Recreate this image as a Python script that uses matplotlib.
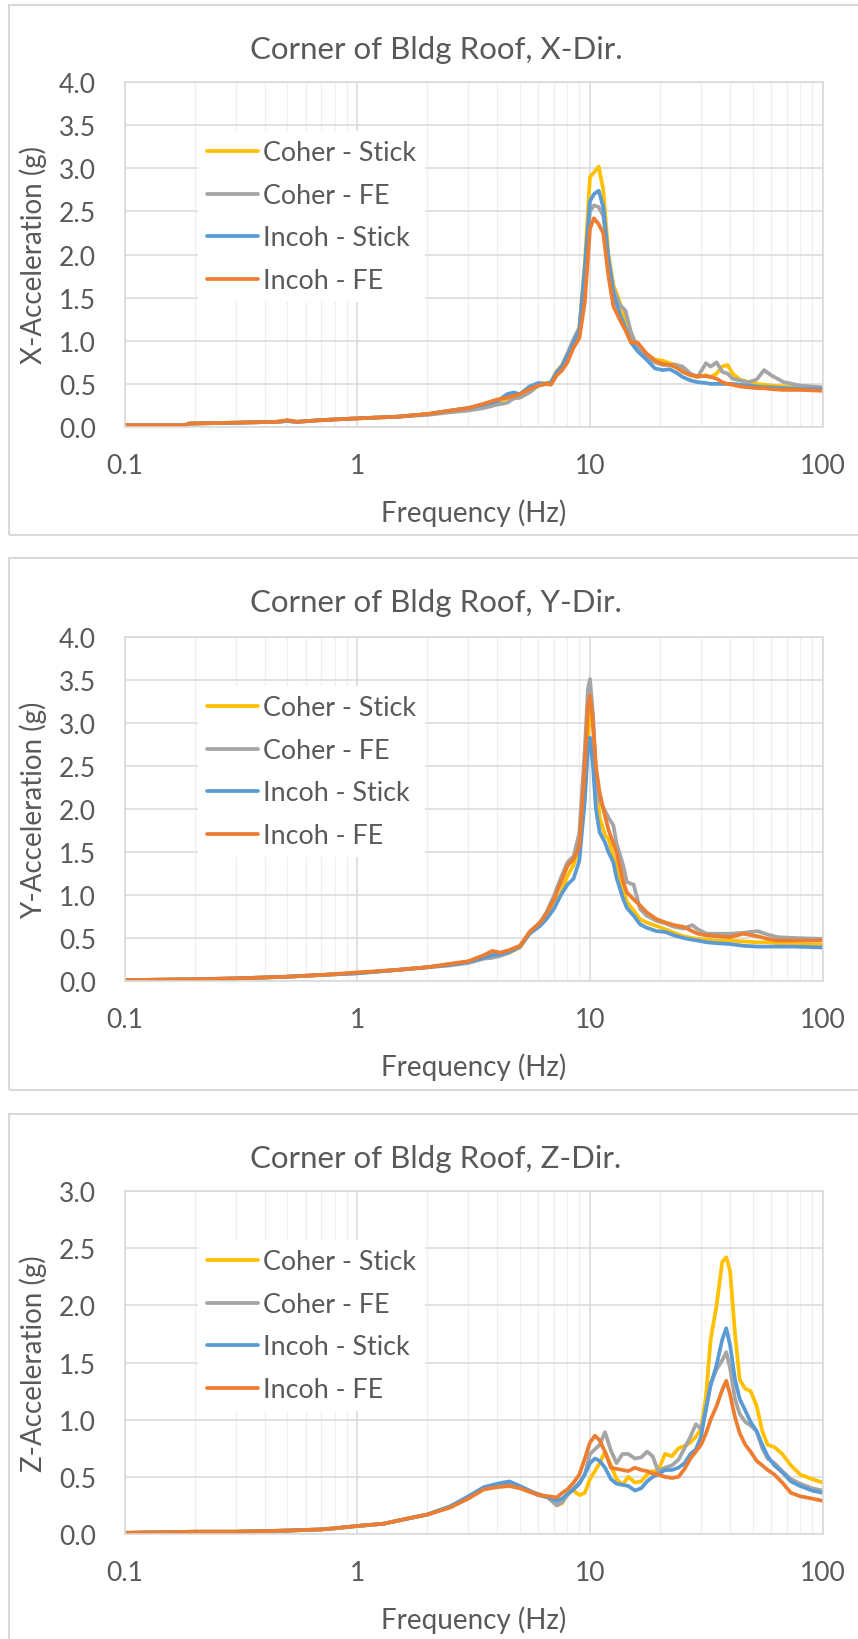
import numpy as np
import matplotlib
matplotlib.use('Agg')
import matplotlib.pyplot as plt
from matplotlib.patches import Rectangle
from matplotlib.ticker import FixedLocator, NullFormatter

plt.rcParams['font.family'] = ['Lato', 'DejaVu Sans']

# series names and colours (Excel default palette)
series_names = ['Coher - Stick', 'Coher - FE', 'Incoh - Stick', 'Incoh - FE']
series_colors = ['#FFC000', '#A5A5A5', '#5B9BD5', '#ED7D31']

# ---------------- X direction ----------------
freq_x = [0.1, 0.18, 0.19, 0.3, 0.45, 0.5, 0.55, 0.7, 1.0, 1.5, 2.0, 2.5, 3.0, 3.5,
          4.0, 4.4, 4.7, 5.0, 5.5, 6.0, 6.5, 6.8, 7.2, 7.6, 8.0, 8.5, 9.0, 9.5, 10.0,
          10.4, 10.9, 11.4, 12.0, 12.6, 13.4, 14.2, 15.0, 16.0, 17.5, 19.0, 20.5, 22.0,
          23.5, 25.0, 27.0, 29.0, 31.5, 33.0, 35.0, 37.0, 39.0, 41.0, 44.0, 48.0, 52.0,
          56.0, 60.0, 68.0, 80.0, 100.0]
coher_stick_x = [0.02, 0.02, 0.04, 0.05, 0.06, 0.07, 0.06, 0.08, 0.10, 0.12, 0.15, 0.18, 0.21, 0.25,
                 0.29, 0.33, 0.36, 0.36, 0.44, 0.50, 0.51, 0.52, 0.65, 0.72, 0.85, 1.00, 1.15, 1.90, 2.90,
                 2.95, 3.02, 2.75, 2.00, 1.65, 1.45, 1.25, 1.05, 0.95, 0.85, 0.78, 0.77, 0.74,
                 0.72, 0.67, 0.60, 0.58, 0.60, 0.58, 0.62, 0.70, 0.72, 0.62, 0.55, 0.52, 0.50,
                 0.49, 0.48, 0.47, 0.45, 0.44]
coher_fe_x = [0.02, 0.02, 0.04, 0.05, 0.06, 0.07, 0.06, 0.08, 0.10, 0.12, 0.14, 0.17, 0.19, 0.22,
              0.26, 0.28, 0.33, 0.34, 0.40, 0.48, 0.50, 0.51, 0.63, 0.72, 0.85, 1.02, 1.15, 1.80, 2.50,
              2.57, 2.55, 2.45, 1.95, 1.60, 1.42, 1.35, 1.10, 0.92, 0.82, 0.75, 0.72, 0.72,
              0.72, 0.70, 0.62, 0.58, 0.74, 0.70, 0.75, 0.64, 0.62, 0.56, 0.54, 0.52, 0.55,
              0.66, 0.60, 0.52, 0.48, 0.46]
incoh_stick_x = [0.02, 0.02, 0.04, 0.05, 0.06, 0.07, 0.06, 0.08, 0.10, 0.12, 0.15, 0.19, 0.22, 0.26,
                 0.30, 0.38, 0.40, 0.38, 0.47, 0.51, 0.50, 0.52, 0.64, 0.70, 0.83, 0.98, 1.12, 1.85, 2.62,
                 2.70, 2.74, 2.55, 1.95, 1.55, 1.32, 1.15, 0.98, 0.88, 0.78, 0.68, 0.66, 0.67,
                 0.63, 0.58, 0.54, 0.52, 0.51, 0.50, 0.50, 0.50, 0.50, 0.50, 0.49, 0.48, 0.47,
                 0.46, 0.46, 0.45, 0.44, 0.44]
incoh_fe_x = [0.02, 0.02, 0.04, 0.05, 0.06, 0.08, 0.06, 0.08, 0.10, 0.12, 0.15, 0.19, 0.22, 0.27,
              0.32, 0.34, 0.36, 0.38, 0.44, 0.48, 0.50, 0.49, 0.60, 0.66, 0.75, 0.92, 1.03, 1.45, 2.30,
              2.42, 2.35, 2.25, 1.75, 1.40, 1.25, 1.12, 0.98, 0.98, 0.85, 0.77, 0.73, 0.72,
              0.69, 0.64, 0.60, 0.59, 0.59, 0.58, 0.56, 0.52, 0.50, 0.49, 0.47, 0.46, 0.45,
              0.45, 0.44, 0.43, 0.43, 0.42]

# ---------------- Y direction ----------------
freq_y = [0.1, 0.2, 0.3, 0.5, 0.7, 1.0, 1.5, 2.0, 2.5, 3.0, 3.5, 3.8, 4.1, 4.5, 5.0, 5.5,
          6.1, 6.5, 7.0, 7.5, 8.0, 8.5, 9.0, 9.5, 9.8, 10.0, 10.3, 10.6, 11.0, 11.6, 12.0,
          12.6, 13.0, 13.9, 14.4, 15.4, 16.4, 17.5, 19.3, 21.1, 23.0, 25.2, 27.5, 29.1,
          31.7, 35.0, 40.0, 45.5, 52.5, 58.0, 64.0, 75.0, 100.0]
coher_stick_y = [0.01, 0.02, 0.03, 0.05, 0.07, 0.09, 0.13, 0.16, 0.19, 0.22, 0.27, 0.30, 0.30, 0.33, 0.39, 0.55,
                 0.66, 0.75, 0.88, 1.02, 1.22, 1.35, 1.55, 2.20, 2.85, 3.12, 2.95, 2.40, 1.90, 1.70, 1.65,
                 1.45, 1.34, 1.05, 0.92, 0.82, 0.72, 0.68, 0.64, 0.60, 0.56, 0.52, 0.50, 0.49,
                 0.48, 0.47, 0.47, 0.46, 0.45, 0.45, 0.44, 0.43, 0.42]
coher_fe_y = [0.01, 0.02, 0.03, 0.05, 0.07, 0.09, 0.13, 0.16, 0.18, 0.21, 0.26, 0.27, 0.29, 0.33, 0.40, 0.57,
              0.68, 0.80, 0.99, 1.20, 1.38, 1.45, 1.72, 2.70, 3.40, 3.51, 3.10, 2.39, 2.10, 1.98, 1.90,
              1.81, 1.60, 1.34, 1.15, 1.12, 0.84, 0.76, 0.70, 0.67, 0.63, 0.61, 0.65, 0.60,
              0.55, 0.55, 0.55, 0.56, 0.58, 0.54, 0.51, 0.50, 0.49]
incoh_stick_y = [0.01, 0.02, 0.03, 0.05, 0.07, 0.09, 0.13, 0.16, 0.19, 0.22, 0.27, 0.30, 0.31, 0.34, 0.40, 0.55,
                 0.64, 0.72, 0.84, 1.00, 1.12, 1.19, 1.40, 2.10, 2.70, 2.83, 2.50, 2.00, 1.73, 1.61, 1.50,
                 1.38, 1.20, 0.95, 0.85, 0.76, 0.66, 0.62, 0.58, 0.57, 0.53, 0.50, 0.48, 0.47,
                 0.45, 0.44, 0.43, 0.41, 0.40, 0.40, 0.40, 0.40, 0.39]
incoh_fe_y = [0.01, 0.02, 0.03, 0.05, 0.07, 0.10, 0.13, 0.16, 0.20, 0.23, 0.30, 0.35, 0.33, 0.36, 0.41, 0.57,
              0.68, 0.78, 0.95, 1.15, 1.34, 1.42, 1.57, 2.50, 3.20, 3.32, 3.00, 2.50, 2.19, 1.92, 1.76,
              1.60, 1.50, 1.15, 1.03, 0.95, 0.88, 0.80, 0.72, 0.68, 0.65, 0.63, 0.58, 0.55,
              0.53, 0.52, 0.51, 0.55, 0.52, 0.49, 0.47, 0.47, 0.47]

# ---------------- Z direction ----------------
freq_z = [0.1, 0.2, 0.3, 0.5, 0.7, 0.8, 1.0, 1.3, 1.6, 2.0, 2.5, 3.0, 3.5, 4.0, 4.5, 5.0,
          5.5, 6.0, 6.6, 7.2, 7.6, 8.0, 8.5, 9.0, 9.5, 10.0, 10.5, 11.0, 11.6, 12.3, 13.0,
          13.8, 14.6, 15.6, 16.6, 17.6, 18.6, 19.6, 21.0, 22.5, 24.0, 25.5, 27.0, 28.5,
          30.0, 31.5, 33.0, 35.0, 37.0, 38.5, 40.0, 42.0, 44.0, 46.5, 49.0, 52.0, 55.0,
          58.0, 62.0, 67.0, 73.0, 80.0, 90.0, 100.0]
coher_stick_z = [0.01, 0.02, 0.02, 0.03, 0.04, 0.05, 0.07, 0.09, 0.13, 0.17, 0.24, 0.32, 0.40, 0.43, 0.44, 0.40,
                 0.37, 0.35, 0.32, 0.25, 0.27, 0.36, 0.38, 0.34, 0.36, 0.48, 0.55, 0.62, 0.72, 0.60, 0.48,
                 0.43, 0.50, 0.45, 0.46, 0.52, 0.55, 0.55, 0.70, 0.68, 0.75, 0.77, 0.80, 0.85,
                 0.92, 1.20, 1.70, 2.00, 2.38, 2.42, 2.30, 1.75, 1.35, 1.27, 1.25, 1.12, 0.90,
                 0.78, 0.76, 0.70, 0.60, 0.52, 0.48, 0.45]
coher_fe_z = [0.01, 0.02, 0.02, 0.03, 0.04, 0.05, 0.07, 0.09, 0.13, 0.17, 0.24, 0.32, 0.40, 0.43, 0.44, 0.41,
              0.37, 0.35, 0.32, 0.25, 0.28, 0.34, 0.40, 0.45, 0.52, 0.70, 0.74, 0.78, 0.89, 0.73, 0.62,
              0.70, 0.70, 0.66, 0.67, 0.72, 0.68, 0.55, 0.58, 0.60, 0.65, 0.75, 0.85, 0.96,
              0.92, 1.08, 1.32, 1.44, 1.52, 1.59, 1.45, 1.18, 1.05, 0.98, 0.95, 0.90, 0.75,
              0.66, 0.62, 0.55, 0.48, 0.44, 0.40, 0.38]
incoh_stick_z = [0.01, 0.02, 0.02, 0.03, 0.04, 0.05, 0.07, 0.09, 0.13, 0.17, 0.24, 0.33, 0.41, 0.44, 0.46, 0.42,
                 0.38, 0.34, 0.32, 0.29, 0.31, 0.35, 0.39, 0.44, 0.52, 0.62, 0.66, 0.64, 0.58, 0.48, 0.44,
                 0.43, 0.42, 0.38, 0.40, 0.46, 0.50, 0.52, 0.56, 0.56, 0.58, 0.62, 0.70, 0.74,
                 0.85, 1.10, 1.30, 1.48, 1.70, 1.80, 1.65, 1.35, 1.18, 1.08, 0.98, 0.90, 0.78,
                 0.68, 0.60, 0.54, 0.46, 0.42, 0.38, 0.36]
incoh_fe_z = [0.01, 0.02, 0.02, 0.03, 0.04, 0.05, 0.07, 0.09, 0.13, 0.17, 0.23, 0.31, 0.39, 0.41, 0.42, 0.40,
              0.37, 0.34, 0.33, 0.32, 0.36, 0.39, 0.45, 0.52, 0.66, 0.80, 0.86, 0.82, 0.72, 0.58, 0.57,
              0.56, 0.55, 0.58, 0.56, 0.55, 0.53, 0.52, 0.50, 0.49, 0.50, 0.57, 0.66, 0.72,
              0.78, 0.88, 1.00, 1.12, 1.26, 1.34, 1.22, 1.02, 0.88, 0.78, 0.72, 0.64, 0.60,
              0.56, 0.52, 0.45, 0.36, 0.33, 0.31, 0.29]

titles = ['Corner of Bldg Roof, X-Dir.', 'Corner of Bldg Roof, Y-Dir.', 'Corner of Bldg Roof, Z-Dir.']
ylabels = ['X-Acceleration (g)', 'Y-Acceleration (g)', 'Z-Acceleration (g)']
ymaxes = [4.0, 4.0, 3.0]
x_ticks = [0.1, 1, 10, 100]
x_ticklabels = ['0.1', '1', '10', '100']

panels = [
    (freq_x, [coher_stick_x, coher_fe_x, incoh_stick_x, incoh_fe_x]),
    (freq_y, [coher_stick_y, coher_fe_y, incoh_stick_y, incoh_fe_y]),
    (freq_z, [coher_stick_z, coher_fe_z, incoh_stick_z, incoh_fe_z]),
]

W, H = 858, 1640
TXT = '#595959'
fig = plt.figure(figsize=(W / 100, H / 100), dpi=100)
renderer = fig.canvas.get_renderer()


def fit_size(s, target, base=20, rotation=0):
    # font size (pt) that gives the text the wanted extent in pixels
    t = fig.text(0, 0, s, fontsize=base, rotation=rotation)
    bb = t.get_window_extent(renderer)
    t.remove()
    w = bb.height if rotation else bb.width
    return base * target / w


title_fs = fit_size(titles[0], 373)
leg_fs = fit_size('Coher - Stick', 154)
xlab_fs = fit_size('Frequency (Hz)', 185)
ylab_fs = fit_size(ylabels[0], 218, rotation=90)
tick_fs = fit_size('4.0', 37)
leg_px = leg_fs / 72 * 100

# pixel layout of each chart: (border top, border bottom, plot top, plot bottom)
layout = [(6, 536, 83, 428), (559, 1091, 638, 982), (1115, 1700, 1192, 1535)]
px_left, px_right = 124.6, 822.7
axes = []

for i, (freq, vals) in enumerate(panels):
    btop, bbot, ptop, pbot = layout[i]
    # chart border
    fig.patches.append(Rectangle((9 / W, 1 - bbot / H), (880 - 9) / W, (bbot - btop) / H,
                                 transform=fig.transFigure, fill=False,
                                 edgecolor='#D9D9D9', linewidth=1.5, zorder=0))
    ax = fig.add_axes([px_left / W, 1 - pbot / H, (px_right - px_left) / W, (pbot - ptop) / H])
    axes.append(ax)
    for v, name, c in zip(vals, series_names, series_colors):
        ax.plot(freq, v, color=c, lw=2.7, label=name,
                solid_joinstyle='round', solid_capstyle='round')
    ax.set_xscale('log')
    ax.set_xlim(0.1, 100)
    ax.set_ylim(0, ymaxes[i])
    yt = np.arange(0, ymaxes[i] + 0.01, 0.5)
    ax.set_yticks(yt)
    ax.set_yticklabels(['%.1f' % t for t in yt])
    ax.xaxis.set_major_locator(FixedLocator(x_ticks))
    ax.set_xticklabels(x_ticklabels)
    minors = [m * d for d in [0.1, 1, 10] for m in range(2, 10)]
    ax.xaxis.set_minor_locator(FixedLocator(minors))
    ax.xaxis.set_minor_formatter(NullFormatter())
    ax.grid(True, which='major', color='#D9D9D9', lw=1.1)
    ax.grid(True, which='minor', axis='x', color='#EFEFEF', lw=0.9)
    ax.set_axisbelow(True)
    for s in ax.spines.values():
        s.set_color('#D9D9D9')
        s.set_linewidth(1.1)
    ax.tick_params(which='both', length=0, labelsize=tick_fs, colors=TXT)

    fig.text(436 / W, 1 - (btop + 53) / H, titles[i], ha='center', va='baseline',
             fontsize=title_fs, color=TXT)
    fig.text((px_left + px_right) / 2 / W, 1 - (pbot + 94) / H, 'Frequency (Hz)',
             ha='center', va='baseline', fontsize=xlab_fs, color=TXT)
    fig.text(33 / W, 1 - (ptop + pbot) / 2 / H, ylabels[i], ha='center', va='center',
             rotation=90, fontsize=ylab_fs, color=TXT)

# place tick labels and legends where they are in the reference
for i, ax in enumerate(axes):
    btop, bbot, ptop, pbot = layout[i]
    aw, ah = px_right - px_left, pbot - ptop
    ypad, xpad = 20.0, 20.0
    ls = 0.6
    ancx, ancy = (194 - px_left) / aw, 1 - 40 / ah
    for it in range(3):
        ax.tick_params(axis='y', pad=ypad)
        ax.tick_params(axis='x', pad=xpad)
        leg = ax.legend(loc='upper left', bbox_to_anchor=(ancx, ancy), fontsize=leg_fs,
                        frameon=True, fancybox=False, framealpha=1, edgecolor='white',
                        handlelength=51 / leg_px, handletextpad=5 / leg_px,
                        labelspacing=ls, borderpad=0.35)
        fig.canvas.draw()
        yb = ax.get_yticklabels()[-1].get_window_extent(renderer)
        xb = ax.get_xticklabels()[0].get_window_extent(renderer)
        ypad += (yb.x1 - 96) * 0.72
        xpad += ((H - (xb.y0 + xb.y1) / 2) - (pbot + 39)) * -0.72
        tb = [t.get_window_extent(renderer) for t in leg.get_texts()]
        cen = [H - (b.y0 + b.y1) / 2 for b in tb]
        pitch = (cen[-1] - cen[0]) / 3
        ls += (42.5 - pitch) / leg_px
        ancx += (263 - tb[0].x0) / aw
        ancy -= ((ptop + 71) - cen[0]) / ah
    ax.tick_params(axis='y', pad=ypad)
    ax.tick_params(axis='x', pad=xpad)
    leg = ax.legend(loc='upper left', bbox_to_anchor=(ancx, ancy), fontsize=leg_fs,
                    frameon=True, fancybox=False, framealpha=1, edgecolor='white',
                    handlelength=51 / leg_px, handletextpad=5 / leg_px,
                    labelspacing=ls, borderpad=0.35)
    leg.get_frame().set_linewidth(0)
    for t in leg.get_texts():
        t.set_color(TXT)

fig.savefig('out.png', dpi=100, facecolor='white')
